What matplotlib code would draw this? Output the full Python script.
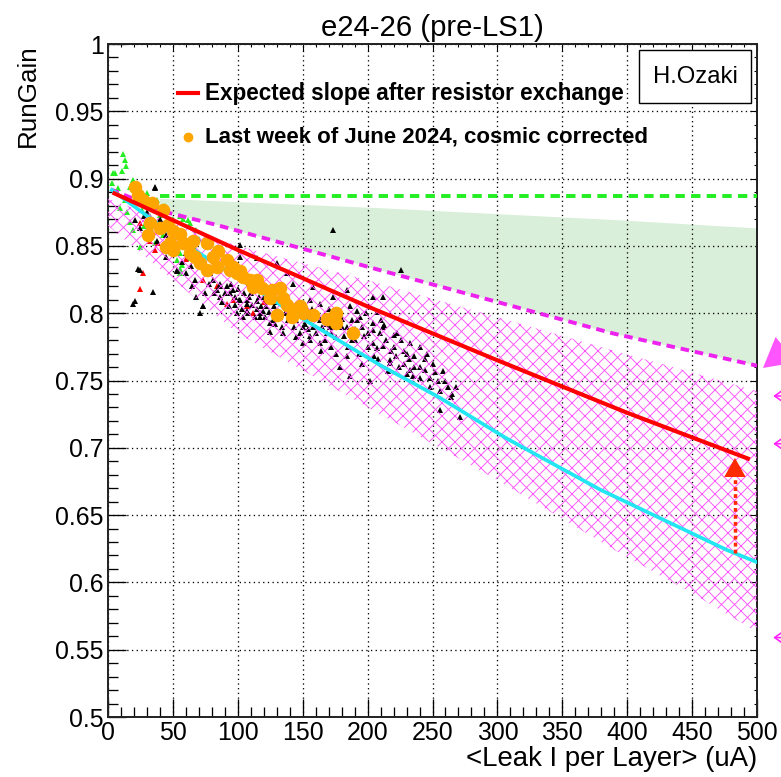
import matplotlib.pyplot as plt
from matplotlib.patches import Rectangle

plt.rcParams['font.family'] = ['Liberation Sans', 'DejaVu Sans']
plt.rcParams['hatch.linewidth'] = 0.85

# ---- lines / bands ----
red_x = [5, 100, 200, 300, 400, 493]
red_y = [0.889, 0.847, 0.805, 0.765, 0.726, 0.692]

cyan_x = [3, 63, 148, 209.5, 256, 307, 379, 477, 500]
cyan_y = [0.8915, 0.849, 0.797, 0.7615, 0.737, 0.707, 0.669, 0.624, 0.615]

mag_x = [2, 45, 84, 209.5, 389, 500]
mag_y = [0.892, 0.875, 0.8655, 0.832, 0.785, 0.761]

green_x = [40, 500]
green_y = [0.887, 0.887]

fill_top_x = [40, 209.5, 394, 500]
fill_top_y = [0.885, 0.878, 0.869, 0.863]
fill_bot_x = [500, 389, 209.5, 84, 45, 40]
fill_bot_y = [0.761, 0.785, 0.832, 0.8655, 0.875, 0.877]

hatch_x = [0, 100, 209.5, 300, 394, 450, 500]
hatch_hi = [0.885, 0.850, 0.822, 0.797, 0.771, 0.756, 0.742]
hatch_lo = [0.865, 0.785, 0.725, 0.676, 0.622, 0.592, 0.563]

# ---- scattered points ----
black_x = [20.8, 24.7, 23.3, 19.5, 36, 37.5, 53, 67, 73.4, 81, 86, 96.5, 99, 101, 107,
           117, 122, 132.5, 124.8, 145, 158, 163, 171, 176, 184, 191.6, 199, 204, 209.5,
           173.6, 204, 212, 150.5, 163, 101.7, 122, 142.8, 158, 173.6, 155.6, 163, 186.5,
           194, 204, 222.4, 212, 207, 230, 217, 232.7, 235, 186.5, 178.7, 202, 155.6,
           168.5, 207, 184, 213, 220, 232.7, 245.5, 258, 255.8, 271, 226, 217, 230, 78.6,
           86, 91.4, 94, 97.8, 101.7, 106.8, 114.6, 119.6, 117, 127, 106.8, 86, 83.7, 73.4,
           101.7, 114.6, 130, 137.7, 24.7, 34.9, 20.8, 53, 71, 110, 128, 140, 150, 178,
           190, 196, 240, 248, 262, 30, 40, 45, 60, 64, 36, 25,
           78, 82, 88, 90, 93, 95, 98, 103, 105, 108, 111, 113, 116, 118, 121, 124, 126,
           129, 131, 134, 136, 139, 143, 146, 148, 152, 154, 157, 160, 162, 165, 167, 170,
           172, 175, 180, 182, 185, 188, 190, 193, 197, 200, 205, 210, 214, 218, 222, 226,
           228, 236, 240, 244, 250, 254, 265, 60, 65, 68, 75, 57, 45, 42, 28,
           152, 156, 160, 164, 168, 172, 176, 180, 184, 188, 192, 196, 200, 204, 208, 212,
           216, 220, 224, 228, 232, 236, 240, 244, 248, 252, 256, 260, 264, 268,
           100, 104, 109, 115, 120, 125, 130, 135, 140, 145]
black_y = [0.869, 0.863, 0.833, 0.807, 0.893, 0.854, 0.832, 0.825, 0.805, 0.825, 0.820,
           0.817, 0.800, 0.810, 0.810, 0.800, 0.805, 0.797, 0.786, 0.795, 0.790, 0.795,
           0.790, 0.7825, 0.790, 0.802, 0.800, 0.7925, 0.785, 0.862, 0.812, 0.812, 0.778,
           0.778, 0.842, 0.8197, 0.822, 0.8197, 0.812, 0.810, 0.807, 0.805, 0.797, 0.7875,
           0.785, 0.776, 0.774, 0.770, 0.763, 0.758, 0.753, 0.753, 0.760, 0.750, 0.780,
           0.785, 0.801, 0.817, 0.791, 0.784, 0.778, 0.770, 0.757, 0.728, 0.723, 0.832,
           0.765, 0.755, 0.830, 0.822, 0.820, 0.815, 0.812, 0.810, 0.807, 0.809, 0.802,
           0.797, 0.795, 0.802, 0.812, 0.817, 0.805, 0.851, 0.841, 0.837, 0.830, 0.832,
           0.816, 0.809, 0.831, 0.800, 0.815, 0.805, 0.802, 0.790, 0.800, 0.780, 0.790,
           0.760, 0.752, 0.745, 0.875, 0.870, 0.858, 0.845, 0.835, 0.894, 0.882,
           0.822, 0.815, 0.808, 0.815, 0.805, 0.822, 0.806, 0.803, 0.815, 0.800, 0.806,
           0.797, 0.812, 0.805, 0.797, 0.801, 0.808, 0.792, 0.802, 0.790, 0.800, 0.795,
           0.790, 0.802, 0.785, 0.797, 0.788, 0.803, 0.785, 0.799, 0.790, 0.780, 0.803,
           0.775, 0.790, 0.796, 0.783, 0.775, 0.795, 0.788, 0.770, 0.783, 0.775, 0.768,
           0.795, 0.780, 0.772, 0.768, 0.780, 0.762, 0.768, 0.775, 0.758, 0.762, 0.750,
           0.740, 0.830, 0.820, 0.812, 0.815, 0.838, 0.842, 0.862, 0.872,
           0.792, 0.783, 0.800, 0.772, 0.792, 0.785, 0.770, 0.790, 0.768, 0.780, 0.795,
           0.762, 0.785, 0.778, 0.766, 0.790, 0.757, 0.775, 0.760, 0.772, 0.766, 0.760,
           0.752, 0.766, 0.745, 0.756, 0.742, 0.750, 0.738, 0.745,
           0.818, 0.797, 0.812, 0.803, 0.812, 0.793, 0.808, 0.785, 0.808, 0.782]

lime_x = [11.8, 13, 10.5, 5.4, 2.8, 17, 19.5, 29.7, 33.6, 36.2, 32.4, 17, 19.5, 49, 55.5,
          62, 46.5, 24.7, 53, 55.5, 40, 26, 9, 13, 4, 58, 63, 55.5, 60.6, 37.5, 36.2, 55.5,
          57, 14, 8, 22, 44, 68, 70, 28, 34, 42, 50, 38, 45, 66, 15]
lime_y = [0.918, 0.914, 0.906, 0.904, 0.8965, 0.894, 0.899, 0.889, 0.884, 0.879, 0.872,
          0.868, 0.862, 0.864, 0.872, 0.869, 0.853, 0.849, 0.8395, 0.833, 0.873, 0.877,
          0.878, 0.884, 0.904, 0.870, 0.867, 0.8445, 0.841, 0.884, 0.852, 0.830, 0.836,
          0.909, 0.893, 0.886, 0.880, 0.862, 0.855, 0.865, 0.861, 0.858, 0.870, 0.879,
          0.867, 0.850, 0.875]

redpt_x = [27.2, 24.7, 38.8, 73.4, 83.7, 91.4, 96.5, 106.8, 24.7, 32.4, 36.2, 44, 112, 120, 60]
redpt_y = [0.830, 0.818, 0.852, 0.825, 0.820, 0.807, 0.810, 0.805, 0.867, 0.854, 0.847,
           0.849, 0.800, 0.808, 0.840]

june_x = [20.8, 23.4, 27.2, 33.6, 42.6, 32.4, 31, 40, 46.5, 50.3, 55.5, 45, 50.3, 58, 65.7,
          63, 67, 76, 71, 76, 81, 85, 83.7, 91.4, 94, 99, 104, 109.4, 114.6, 112, 118.4, 126,
          132.5, 124.8, 135, 137.7, 142.8, 148, 150.5, 130, 141.5, 158, 168.5, 176, 176,
          189, 47.8, 96.5, 101.7, 149, 175]
june_y = [0.894, 0.888, 0.884, 0.882, 0.877, 0.867, 0.858, 0.863, 0.8655, 0.861, 0.859,
          0.849, 0.847, 0.852, 0.854, 0.8445, 0.842, 0.852, 0.837, 0.832, 0.842, 0.846,
          0.8345, 0.8395, 0.832, 0.8296, 0.827, 0.8247, 0.8247, 0.8197, 0.8185, 0.817,
          0.8185, 0.811, 0.811, 0.806, 0.8024, 0.805, 0.800, 0.7987, 0.797, 0.7987, 0.796,
          0.800, 0.7925, 0.785, 0.852, 0.8345, 0.831, 0.8036, 0.7987]

xticks = list(range(0, 501, 50))
yticks = [0.5, 0.55, 0.6, 0.65, 0.7, 0.75, 0.8, 0.85, 0.9, 0.95, 1.0]
ylabels = ['0.5', '0.55', '0.6', '0.65', '0.7', '0.75', '0.8', '0.85', '0.9', '0.95', '1']

DPI = 78.1
fig = plt.figure(figsize=(781 / DPI, 777 / DPI), dpi=DPI)
ax = fig.add_axes([108 / 781, 1 - 717 / 777, 649 / 781, 673 / 777])

ax.fill(fill_top_x + fill_bot_x, fill_top_y + fill_bot_y, color='#d9efd9', lw=0, zorder=1)
ax.grid(True, color='black', ls=(0, (1, 2.6)), lw=1.2, zorder=2)

ax.plot(lime_x, lime_y, ls='none', marker='^', ms=5, mew=0, color='#22ee22', zorder=3)
ax.plot(redpt_x, redpt_y, ls='none', marker='^', ms=5, mew=0, color='red', zorder=3)
ax.plot(black_x, black_y, ls='none', marker='^', ms=5, mew=0, color='black', zorder=3)

ax.fill(hatch_x + hatch_x[::-1], hatch_hi + hatch_lo[::-1], fill=False, hatch='xx',
        edgecolor='#ff55ff', lw=0, zorder=4)

ax.plot(mag_x, mag_y, color='#ee22ee', lw=3.6, ls=(0, (2.2, 1.5)), zorder=5)
ax.plot(green_x, green_y, color='#22ee22', lw=3.6, ls=(0, (2.4, 1.6)), zorder=5)
ax.plot(cyan_x, cyan_y, color='#22e6f2', lw=3.4, zorder=6)
ax.plot(june_x, june_y, ls='none', marker='o', ms=12.5, mew=0, color='#ffa500', zorder=7)
ax.plot(red_x, red_y, color='red', lw=3.8, zorder=8)

# red dotted arrow
ax.plot([483, 483], [0.622, 0.678], color='#ff2a00', lw=3.2, ls=(0, (1.1, 0.9)), zorder=9)
ax.annotate('', xy=(483, 0.6925), xytext=(483, 0.676),
            arrowprops=dict(arrowstyle='-|>,head_length=0.8,head_width=0.45',
                            color='#ff2a00', lw=0, mutation_scale=22,
                            shrinkA=0, shrinkB=0), zorder=9)

# magenta arrows outside the frame
ax.annotate('', xy=(504.6, 0.7593), xytext=(530, 0.779), annotation_clip=False,
            arrowprops=dict(arrowstyle='-|>,head_length=0.9,head_width=0.5',
                            color='#ff55ff', lw=0, mutation_scale=30, shrinkA=0, shrinkB=0))
for yy in [0.7385, 0.703, 0.559]:
    ax.annotate('', xy=(512.5, yy), xytext=(525, yy), annotation_clip=False,
                arrowprops=dict(arrowstyle='->,head_length=0.5,head_width=0.35',
                                color='#ff22ff', lw=1.5, mutation_scale=12,
                                shrinkA=0, shrinkB=0))

ax.set_xlim(0, 500)
ax.set_ylim(0.5, 1.0)
ax.set_xticks(xticks)
ax.set_yticks(yticks)
ax.set_yticklabels(ylabels)
ax.set_xticks(range(0, 501, 10), minor=True)
ax.set_yticks([0.5 + 0.01 * i for i in range(51)], minor=True)
ax.tick_params(which='both', direction='in', labelsize=23, width=1.2, top=False, right=False)
ax.tick_params(which='major', length=17, pad=4)
ax.tick_params(which='minor', length=9)
for s in ax.spines.values():
    s.set_linewidth(1.8)
    s.set_color('#222222')

secx = ax.secondary_xaxis('top')
secx.set_xticks(xticks)
secx.set_xticks(range(0, 501, 10), minor=True)
secx.tick_params(which='both', direction='in', labeltop=False, width=1.0)
secx.tick_params(which='major', length=6)
secx.tick_params(which='minor', length=3)
secy = ax.secondary_yaxis('right')
secy.set_yticks(yticks)
secy.set_yticks([0.5 + 0.01 * i for i in range(51)], minor=True)
secy.tick_params(which='both', direction='in', labelright=False, width=1.0)
secy.tick_params(which='major', length=6)
secy.tick_params(which='minor', length=3)

ax.set_title('e24-26 (pre-LS1)', fontsize=27, pad=7)
ax.set_xlabel('<Leak I per Layer> (uA)', loc='right', fontsize=25.5, labelpad=1)
ax.set_ylabel('RunGain', loc='top', fontsize=24, labelpad=14)

# legend drawn by hand
ax.plot([0.108, 0.138], [0.927, 0.927], transform=ax.transAxes, color='red', lw=3.8,
        zorder=10)
ax.plot([0.123], [0.862], transform=ax.transAxes, marker='o', ms=9, mew=0,
        color='#ffa500', zorder=10)
ax.text(0.149, 0.927, 'Expected slope after resistor exchange', transform=ax.transAxes,
        fontsize=20.8, fontweight='bold', va='center', ha='left', zorder=10)
ax.text(0.149, 0.862, 'Last week of June 2024, cosmic corrected', transform=ax.transAxes,
        fontsize=20.6, fontweight='bold', va='center', ha='left', zorder=10)

ax.add_patch(Rectangle((0.8182, 0.9123), 0.1726, 0.0788, transform=ax.transAxes,
                       facecolor='white', edgecolor='black', lw=1.3, zorder=10))
ax.text(0.9045, 0.9517, 'H.Ozaki', transform=ax.transAxes, fontsize=22,
        ha='center', va='center', zorder=11)

fig.savefig('out.png', dpi=DPI)
